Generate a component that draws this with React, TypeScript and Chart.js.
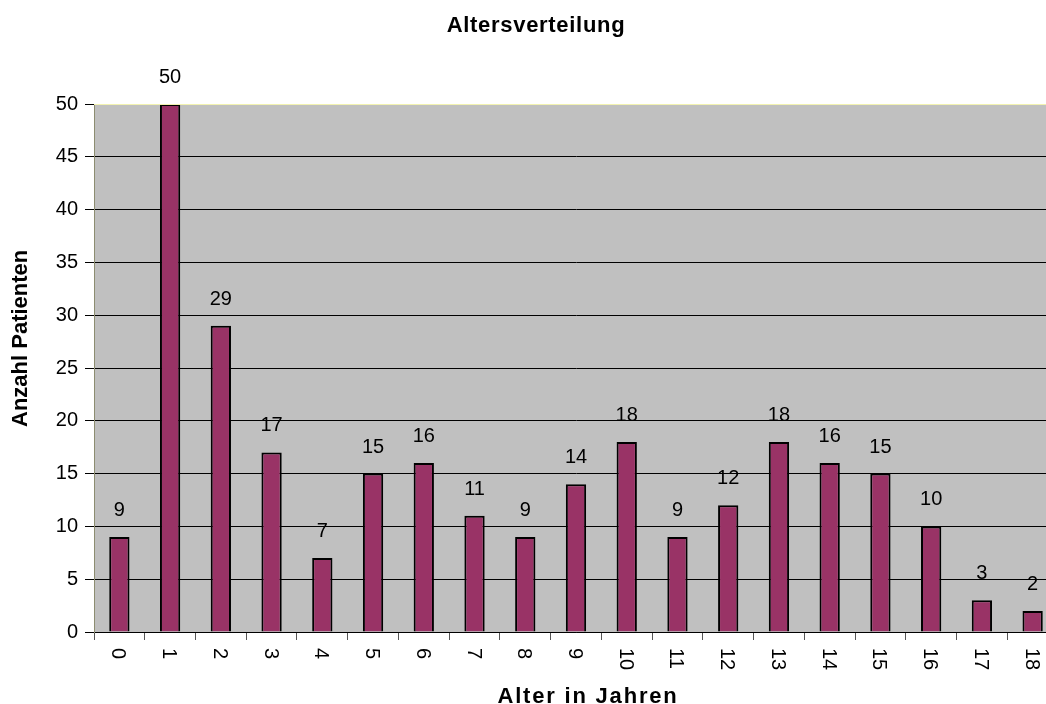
import React, { useEffect, useRef } from "react";
import { Chart, registerables } from "chart.js";

Chart.register(...registerables);

const chartTitle = "Altersverteilung";
const xAxisTitle = "Alter in Jahren";
const yAxisTitle = "Anzahl Patienten";
const ageLabels = ["0", "1", "2", "3", "4", "5", "6", "7", "8", "9", "10", "11", "12", "13", "14", "15", "16", "17", "18"];
const patientCounts = [9, 50, 29, 17, 7, 15, 16, 11, 9, 14, 18, 9, 12, 18, 16, 15, 10, 3, 2];
const yMin = 0;
const yMax = 50;
const yStep = 5;

const FONT = "'Liberation Sans', Arial, sans-serif";

const decorPlugin = {
  id: "decor",
  beforeDraw(chart: any) {
    const { ctx, chartArea } = chart;
    ctx.save();
    ctx.fillStyle = "#C0C0C0";
    ctx.fillRect(chartArea.left, chartArea.top, chartArea.right - chartArea.left, chartArea.bottom - chartArea.top);
    ctx.restore();
  },
  afterDraw(chart: any) {
    const { ctx, chartArea } = chart;
    const xScale = chart.scales.x;
    ctx.save();
    // top border of plot
    ctx.strokeStyle = "#F2F2B0";
    ctx.lineWidth = 1;
    ctx.beginPath();
    ctx.moveTo(chartArea.left, chartArea.top + 0.5);
    ctx.lineTo(chartArea.right, chartArea.top + 0.5);
    ctx.stroke();

    // data labels
    const meta = chart.getDatasetMeta(0);
    ctx.fillStyle = "#000";
    ctx.font = `20px ${FONT}`;
    ctx.textAlign = "center";
    ctx.textBaseline = "alphabetic";
    meta.data.forEach((bar: any, i: number) => {
      ctx.fillText(String(patientCounts[i]), bar.x, bar.y - 21);
    });

    // rotated x tick labels (reading top to bottom)
    ctx.font = `20px ${FONT}`;
    ctx.textAlign = "left";
    ctx.textBaseline = "alphabetic";
    ageLabels.forEach((lab, i) => {
      const x = xScale.getPixelForValue(i);
      ctx.save();
      ctx.translate(x - 7, 648);
      ctx.rotate(Math.PI / 2);
      ctx.fillText(lab, 0, 0);
      ctx.restore();
    });

    // chart title
    ctx.font = `bold 22px ${FONT}`;
    ctx.textAlign = "center";
    (ctx as any).letterSpacing = "0.7px";
    ctx.fillText(chartTitle, 536, 32);

    // x axis title
    (ctx as any).letterSpacing = "1.8px";
    ctx.fillText(xAxisTitle, 588, 703);

    // y axis title
    (ctx as any).letterSpacing = "0px";
    ctx.save();
    ctx.translate(26.5, 427);
    ctx.rotate(-Math.PI / 2);
    ctx.textAlign = "left";
    ctx.fillText(yAxisTitle, 0, 0);
    ctx.restore();
    ctx.restore();
  },
};

export default function App() {
  const canvasRef = useRef<HTMLCanvasElement | null>(null);

  useEffect(() => {
    if (!canvasRef.current) return;
    const chart = new Chart(canvasRef.current, {
      type: "bar",
      data: {
        labels: ageLabels,
        datasets: [
          {
            data: patientCounts,
            backgroundColor: "#993366",
            borderColor: "#000000",
            borderWidth: 2,
            barPercentage: 0.4,
            categoryPercentage: 1,
          },
        ],
      },
      options: {
        responsive: false,
        animation: false,
        layout: { padding: { left: 0, right: 22, top: 104, bottom: 0 } },
        plugins: {
          legend: { display: false },
          title: { display: false },
          tooltip: { enabled: false },
        },
        scales: {
          x: {
            offset: true,
            grid: {
              offset: true,
              drawOnChartArea: false,
              drawTicks: true,
              tickLength: 8,
              color: "#555555",
            },
            border: { display: true, color: "#000000" },
            ticks: { display: false },
            afterFit: (s: any) => {
              s.height = 72;
            },
          },
          y: {
            min: yMin,
            max: yMax,
            grid: {
              color: (c: any) => (c.tick && c.tick.value === yMax ? "rgba(0,0,0,0)" : "#000000"),
              tickColor: "#000000",
              tickLength: 9,
              lineWidth: 1,
            },
            border: { display: true, color: "#8C8C70" },
            ticks: {
              stepSize: yStep,
              color: "#000000",
              padding: 7,
              font: { family: FONT, size: 20 },
            },
            afterFit: (s: any) => {
              s.width = 94;
            },
          },
        },
      },
      plugins: [decorPlugin],
    } as any);
    return () => chart.destroy();
  }, []);

  return (
    <div style={{ position: "fixed", left: 0, top: 0, width: 1046, height: 704, overflow: "hidden", background: "#fff" }}>
      <canvas ref={canvasRef} width={1080} height={704} style={{ display: "block" }} />
    </div>
  );
}
